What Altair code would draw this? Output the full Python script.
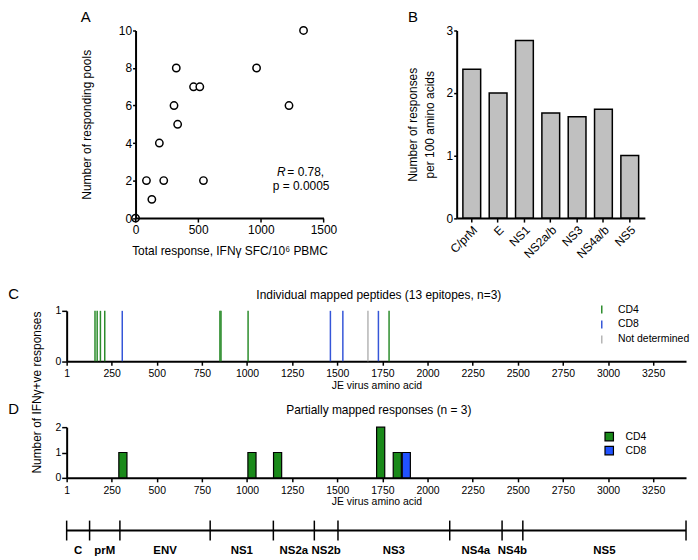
import altair as alt
import pandas as pd

# ---------------- data ----------------
# Panel A : scatter
total_response = [0, 87, 130, 190, 225, 307, 325, 336, 463, 513, 542, 966, 1225, 1341]
responding_pools = [0, 2, 1, 4, 2, 6, 8, 5, 7, 7, 2, 8, 6, 10]
a_x_ticks = [0, 500, 1000, 1500]
a_y_ticks = [0, 2, 4, 6, 8, 10]

# Panel B : bars
regions = ["C/prM", "E", "NS1", "NS2a/b", "NS3", "NS4a/b", "NS5"]
responses_per_100 = [2.38, 2.0, 2.84, 1.68, 1.62, 1.74, 1.0]
b_y_ticks = [0, 1, 2, 3]

# Panel C : individual mapped peptides
peptide_pos = [158, 170, 188, 212, 850, 856, 1006, 1787, 309, 1462, 1531, 1728, 1670]
peptide_type = ["CD4"] * 8 + ["CD8"] * 4 + ["Not determined"]
c_types = ["CD4", "CD8", "Not determined"]
c_colors = ["#2b8c2b", "#3556d8", "#b5b5b5"]

# Panel D : partially mapped responses
partial_start = [290, 1005, 1147, 1718, 1810, 1860]
partial_end = [335, 1050, 1192, 1763, 1855, 1905]
partial_resp = [1, 1, 1, 2, 1, 1]
partial_type = ["CD4"] * 5 + ["CD8"]
d_types = ["CD4", "CD8"]
d_colors = ["#1a8a1a", "#2152ff"]
d_y_ticks = [0, 1, 2]

# Genome map
segments = ["C", "prM", "ENV", "NS1", "NS2a", "NS2b", "NS3", "NS4a", "NS4b", "NS5"]
seg_start = [1, 128, 296, 796, 1146, 1373, 1504, 2123, 2413, 2528]
seg_end = [128, 296, 796, 1146, 1373, 1504, 2123, 2413, 2528, 3432]

aa_ticks = [1, 250, 500, 750, 1000, 1250, 1500, 1750, 2000, 2250, 2500, 2750, 3000, 3250]
aa_domain = [1, 3432]

# ---------------- layout ----------------
FONT = "Liberation Sans"
AB_W, AB_H = 581.6, 188.7
A_RANGE = [69.3, 258.3]
B_RANGE = [392.3, 581.6]
GW = 623
C_H, D_H, S_H = 50.7, 51, 20
GAP1, GAP2, GAP3 = 92.3, 65.5, 43


def label(txt, x, y, size=15, align="center", baseline="alphabetic", **kw):
    return alt.Chart(pd.DataFrame({"t": [txt]})).mark_text(
        fontSize=size, align=align, baseline=baseline, color="black", **kw
    ).encode(x=alt.value(x), y=alt.value(y), text="t:N")


def spacer(h):
    return alt.Chart(pd.DataFrame({"v": [0]})).mark_point(opacity=0).encode(
        x=alt.value(0), y=alt.value(0)
    ).properties(width=1, height=h)


def aa_axis():
    return alt.Axis(values=aa_ticks, format="d", labelFlush=False, labelOverlap=False,
                    title="JE virus amino acid", titleY=24, titleBaseline="middle",
                    titleFontSize=10.5, labelFontSize=10.5, tickSize=4, labelPadding=3.5)


aa_scale = alt.Scale(domain=aa_domain, nice=False, zero=False)

# ---------------- A + B (one layered view, independent scales) ----------------
dfA = pd.DataFrame({"total": total_response, "pools": responding_pools})
pointsA = alt.Chart(dfA).mark_point(
    filled=True, fill="white", stroke="black", strokeWidth=1.5, size=55, opacity=1
).encode(
    x=alt.X("total:Q", scale=alt.Scale(domain=[0, 1500], range=A_RANGE, nice=False),
            axis=alt.Axis(orient="bottom", values=a_x_ticks, format="d", labelFlush=False,
                          labelOverlap=False,
                          title="Total response, IFNγ SFC/10⁶ PBMC", titleY=33,
                          titleBaseline="middle", zindex=1, tickSize=4, labelPadding=3)),
    y=alt.Y("pools:Q", scale=alt.Scale(domain=[0, 10], nice=False),
            axis=alt.Axis(orient="left", values=a_y_ticks, format="d", offset=-A_RANGE[0],
                          labelOverlap=False,
                          title="Number of responding pools", titleAngle=270,
                          titleX=-49, titleY=AB_H / 2, titleBaseline="middle",
                          titleAlign="center", zindex=1, tickSize=3, labelPadding=1)),
)

dfB = pd.DataFrame({"region": regions, "value": responses_per_100})
barsB = alt.Chart(dfB).mark_bar(fill="#c0c0c0", stroke="black", strokeWidth=1.5).encode(
    x=alt.X("region:N", sort=regions,
            scale=alt.Scale(range=B_RANGE, paddingInner=0.325, paddingOuter=0.236),
            axis=alt.Axis(orient="bottom", title=None, labelAngle=315, tickSize=4,
                          labelPadding=2)),
    y=alt.Y("value:Q", scale=alt.Scale(domain=[0, 3], nice=False),
            axis=alt.Axis(orient="left", values=b_y_ticks, format="d", offset=-B_RANGE[0],
                          labelOverlap=False,
                          title=["Number of responses", "per 100 amino acids"],
                          titleAngle=270, titleX=-44.5, titleY=AB_H / 2,
                          titleBaseline="middle", titleAlign="center",
                          titleLineHeight=17, tickSize=3, labelPadding=1)),
)

AB = alt.layer(
    barsB,
    pointsA,
    label("R", 220.3, 142.7, size=12, align="right", baseline="middle", fontStyle="italic"),
    label("= 0.78,", 222, 142.7, size=12, align="left", baseline="middle"),
    label("p = 0.0005", 235.8, 156.7, size=12, baseline="middle"),
    label("A", 19.3, -8.3),
    label("B", 348.3, -8.3),
).resolve_scale(x="independent", y="independent").properties(width=AB_W, height=AB_H)

# ---------------- C ----------------
dfC = pd.DataFrame({"pos": peptide_pos, "type": peptide_type})
rulesC = alt.Chart(dfC).transform_calculate(top="1", bottom="0").mark_rule(
    strokeWidth=1.5
).encode(
    x=alt.X("pos:Q", scale=aa_scale, axis=aa_axis()),
    y=alt.Y("top:Q", scale=alt.Scale(domain=[0, 1], nice=False),
            axis=alt.Axis(values=[0, 1], format="d", title=None, tickSize=5, labelPadding=1,
                          labelOverlap=False, labelFontSize=10.5)),
    y2="bottom:Q",
    color=alt.Color("type:N", scale=alt.Scale(domain=c_types, range=c_colors),
                    legend=alt.Legend(title=None, orient="none", legendX=533, legendY=-6.5,
                                      symbolType="M0,-1L0,1", symbolSize=64,
                                      symbolStrokeWidth=1.5, labelFontSize=10.5,
                                      labelOffset=11, rowPadding=0, padding=0)),
)
C = alt.layer(
    rulesC,
    label("Individual mapped peptides (13 epitopes, n=3)", 314, -16, size=12, baseline="middle"),
    label("C", -58.7, -12.3, align="left"),
    label("Number of IFNγ+ve responses", -29.7, 82.2, size=12, baseline="middle", angle=270),
).properties(width=GW, height=C_H)

# ---------------- D ----------------
dfD = pd.DataFrame({"start": partial_start, "end": partial_end,
                    "nresp": partial_resp, "type": partial_type})
barsD = alt.Chart(dfD).transform_calculate(base="0").mark_rect(
    stroke="black", strokeWidth=1.2
).encode(
    x=alt.X("start:Q", scale=aa_scale, axis=aa_axis()),
    x2="end:Q",
    y=alt.Y("nresp:Q", scale=alt.Scale(domain=[0, 2], nice=False),
            axis=alt.Axis(values=d_y_ticks, labelExpr="toString(datum.value)", title=None,
                          tickSize=5, labelPadding=1, labelOverlap=False,
                          labelFontSize=10.5)),
    y2="base:Q",
    color=alt.Color("type:N", scale=alt.Scale(domain=d_types, range=d_colors),
                    legend=alt.Legend(title=None, orient="none", legendX=540.5, legendY=4.3,
                                      symbolType="square", symbolSize=72,
                                      symbolStrokeColor="black", symbolStrokeWidth=1.2,
                                      labelFontSize=10.5, labelOffset=11, rowPadding=0,
                                      padding=0)),
)
D = alt.layer(
    barsD,
    label("Partially mapped responses (n = 3)", 314, -17.2, size=12, baseline="middle"),
    label("D", -58.7, -13.5, align="left"),
).properties(width=GW, height=D_H)

# ---------------- genome map ----------------
dfSeg = pd.DataFrame({"name": segments, "start": seg_start, "end": seg_end})
dfBound = pd.DataFrame({"pos": sorted(set(seg_start + seg_end))})
dfLine = pd.DataFrame({"a": [seg_start[0]], "b": [seg_end[-1]]})

seg_line = alt.Chart(dfLine).mark_rule(color="black", strokeWidth=2).encode(
    x=alt.X("a:Q", scale=aa_scale, axis=None), x2="b:Q", y=alt.value(S_H / 2)
)
seg_ticks = alt.Chart(dfBound).mark_rule(color="black", strokeWidth=1.5).encode(
    x=alt.X("pos:Q", scale=aa_scale, axis=None), y=alt.value(0), y2=alt.value(S_H)
)
seg_labels = alt.Chart(dfSeg).transform_calculate(
    mid="(datum.start + datum.end) / 2"
).mark_text(fontSize=11.5, fontWeight="bold", baseline="middle", color="black").encode(
    x=alt.X("mid:Q", scale=aa_scale, axis=None), y=alt.value(30.5), text="name:N"
)
SEG = alt.layer(seg_line, seg_ticks, seg_labels).properties(width=GW, height=S_H)

# ---------------- assemble ----------------
chart = alt.vconcat(
    AB, spacer(GAP1), C, spacer(GAP2), D, spacer(GAP3), SEG,
    spacing=0, bounds="flush"
).resolve_scale(color="independent").properties(padding=0).configure(
    font=FONT
).configure_view(strokeWidth=0).configure_axis(
    domainColor="black", domainWidth=2, tickColor="black", tickWidth=1.5,
    labelColor="black", titleColor="black", grid=False, titleFontWeight="normal",
    labelFontSize=12, titleFontSize=12
).configure_legend(labelColor="black")

chart.save("out.html", embed_options={"renderer": "svg", "actions": False})
